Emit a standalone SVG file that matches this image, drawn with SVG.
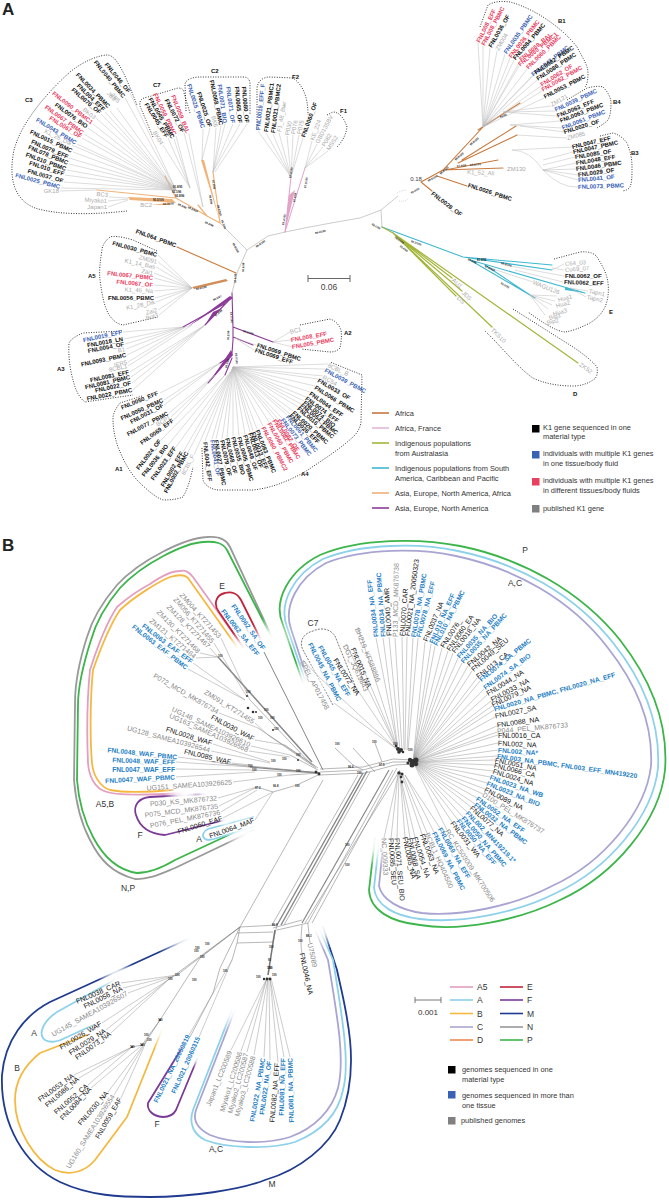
<svg xmlns="http://www.w3.org/2000/svg" width="669" height="1200" viewBox="0 0 669 1200">
<style>
text{font-family:"Liberation Sans",Arial,sans-serif;dominant-baseline:central}
.k,.r,.u,.g{font-size:6px;font-weight:700}
.k{fill:#111}.r{fill:#e8405f}.u{fill:#3a62b4}.g{fill:#aaa;font-weight:400}
.bk,.bu,.bg{font-size:7px}
.bk{fill:#111}.bu{fill:#1f7fc4;font-weight:700;font-size:6.7px}.bg{fill:#888}
.e{text-anchor:end}
.h{font-size:17px;font-weight:700;fill:#222}
.c{font-size:6px;font-weight:700;fill:#111}
.t{font-size:2.8px;font-weight:700;fill:#222}
.lg{font-size:7.4px;fill:#333}
.lb{font-size:8.5px;fill:#333}
.l{fill:none;stroke:#bbb;stroke-width:.5}
.m{fill:none;stroke:#999;stroke-width:.5}
.d{fill:none;stroke:#222;stroke-width:.9;stroke-dasharray:1 1.5}
.o{fill:none;stroke-width:1.8;stroke-linecap:round;stroke-linejoin:round}
.b{fill:none;stroke-linecap:round}
.n{fill:#333}
</style>
<defs>
<radialGradient id="fd"><stop offset="0" stop-color="#000"/><stop offset=".35" stop-color="#000" stop-opacity=".85"/><stop offset="1" stop-color="#000" stop-opacity="0"/></radialGradient>
<mask id="tails" maskUnits="userSpaceOnUse" x="0" y="520" width="669" height="680">
<rect x="0" y="520" width="669" height="680" fill="#fff"/>
<g fill="url(#fd)">
<circle cx="272" cy="640" r="24"/><circle cx="242" cy="650" r="20"/><circle cx="264" cy="645" r="16"/><circle cx="305" cy="686" r="26"/><circle cx="378" cy="842" r="26"/><circle cx="190" cy="938" r="34"/><circle cx="320" cy="927" r="24"/><circle cx="233" cy="1008" r="24"/><circle cx="248" cy="834" r="24"/><circle cx="185" cy="793" r="22"/><circle cx="205" cy="793" r="10"/><circle cx="118" cy="978" r="20"/><circle cx="100" cy="1022" r="14"/><circle cx="163" cy="1027" r="24"/><circle cx="186" cy="1043" r="12"/><circle cx="198" cy="1057" r="12"/><circle cx="225" cy="820" r="8"/>
</g>
</mask>
</defs>

<g id="connectors">
<path class="m" d="M247,250L268,236Q300,228 360,218L381,210L398,196M381,210L382,227M247,250L220,223M247,250L237,273L232,293"/>
<g id="a-branches">
<path class="b" stroke="#f0b37a" stroke-width="1.2" d="M220,223L207,216L176,198L97,190M176,198L165,176M207,216L198,205M220,223L213,172"/>
<path fill="#f0b37a" d="M128,197L172,199L176,203L130,200ZM201,160L204,160L220,222ZM170,203L150,205L170,205Z"/>
<path class="b" stroke="#e3a3c8" stroke-width="1" d="M285,232L291,177M285,232L305,168"/>
<path fill="#e3a3c8" d="M285,232L289,195L295,190Z"/>
<path class="b" stroke="#c97a3e" stroke-width="1.1" d="M421,182L443,170L483,127M421,182L432,191M437,176L467,186M443,170L503,168M458,163L517,135M462,160L516,126M478,130L520,103M445,170L498,160M236,273L177,247"/>
<path fill="#c97a3e" d="M192,287L226,279L228,281L194,289Z" opacity=".85"/>
<path class="b" stroke="#3fb8d0" stroke-width="1.1" d="M382,227L463,257L552,270M470,260L585,293M470,260L535,298M463,257L552,265M485,265L530,295"/>
<path fill="#3fb8d0" d="M565,287L585,293L565,290Z"/>
<path class="b" stroke="#a5b53c" stroke-width="1.2" d="M393,233L578,363M382,227L393,233M393,233L492,327M393,233L452,278M393,233L462,291M393,233L456,296"/>
<path class="b" stroke="#8b3a98" stroke-width="1.1" d="M232,293L233,327L233,340L232,353L208,383M233,327L273,342M233,337L253,345M232,297L205,325M226,303L183,327M232,355L220,363M232,358L225,375"/>
<path fill="#8b3a98" d="M230,296L233,298L186,328ZM213,312L222,308L205,325ZM231,350L233,355L208,384Z"/>
</g>
<path class="l" d="M130,93L176,190M125,98L176,190M117,108L176,190M110,111L176,190M105,112L176,190M101,114L176,190M96,118L176,190M93,124L176,190M88,128L176,190M84,134L176,190M82,138L176,190M77,144L176,190M72,145L176,190M73,152L176,190M69,158L176,190M69,164L176,190M67,170L176,190M65,175L176,190M64,182L176,190M61,188L176,190M60,191L97,190M109,197L128,198M108,201L128,199M108,207L128,200"/>
<path class="l" d="M189,134L203,207M184,133L203,207M176,136L190,188M174,139L190,188M168,138L190,188M163,145L190,188M203,129L202,160M210,128L202,160M216,128L213,172M221,126L213,172M225,124L213,172M233,124L213,172M240,124L213,172M247,124L215,172"/>
<path class="l" d="M258,131L291,177M266,133L291,177M273,134L291,177M279,133L291,177M287,136L291,177M293,135L291,177M299,135L291,177M303,138L291,177M312,141L305,168M317,144L305,168M323,147L305,168M328,151L305,168"/>
<path class="l" d="M478,43L483,127M483,46L483,127M490,48L483,127M497,51L483,127M505,54L483,127M510,58L483,127M514,60L483,127M520,61L483,127M519,66L483,127M527,69L483,127M532,76L483,127M535,74L483,127M537,80L483,127M541,86L483,127M542,91L483,127M544,98L483,127M551,106L503,112M555,111L503,112M557,116L503,112M560,121L510,125M562,128L510,125M564,132L520,126M567,138L517,135M572,147L512,150Q530,150 543,170M573,152L543,160M575,157L543,165M576,163L543,170M576,169L543,170M578,175L543,170M578,180L543,170M578,187Q560,188 543,170"/>
<path class="l" d="M158,255L192,288M158,262L192,288M156,267L192,288M154,273L192,288M154,278L192,288M154,285L192,288M154,291L192,288M155,298L192,288M156,302L192,288M158,310L192,288M159,315L192,288"/>
<path class="l" d="M123,332L183,327M124,339L183,327M125,344L183,327M126,349L183,327M127,355L187,326M128,362L187,326M128,366L192,325M130,372L205,325M131,377L205,325M132,383L205,325M133,390L205,325M160,393L220,363M164,400L220,363M164,405L220,363M169,413L215,375M171,417L215,375M174,420L208,383M161,440L225,375M168,445L225,375M176,447L228,375M183,452L230,372M188,452L232,370M194,455L233,367"/>
<path class="l" d="M205,441L233,367M212,439L233,367M216,439L233,367M222,439L233,367M227,437L233,367M233,436L233,367M239,436L233,367M245,434L233,367M250,432L233,367M253,431L233,367M257,429L233,367M263,426L233,367M269,422L233,367M274,419L233,367M278,419L233,367M282,418L233,367M287,415L233,367M290,414L233,367M293,411L233,367M298,407L233,367M301,404L233,367M304,401L233,367M306,397L233,367M310,392L233,367M315,386L233,367M318,379L233,367M323,376L233,367M325,369L233,367M328,364L233,367"/>
<path class="l" d="M290,332L273,342M291,340L273,342M292,347L273,342M256,345L235,338M254,350L235,338"/>
<path class="l" d="M564,264L552,270M564,270L552,268M564,276L510,266M563,282L515,270M588,291L570,288M586,297L570,288M533,282L490,268M557,296L530,295M555,301L530,295M552,305L530,295M548,309L530,295M545,315L530,295"/>
<g fill="none" stroke="#888" stroke-width=".6">
<path stroke-width="1.5" d="M218,657L312,762"/>
<path stroke="#666" stroke-width=".8" d="M264,652L323,770"/>
<path d="M250,700L312,765M258,728L315,766M268,735L316,768M285,745L318,768M290,755L318,770M220,763L320,773M252,770L320,773M290,775L320,773M257,787L273,792L297,785L318,775"/>
<path stroke-width="1.3" d="M250,767L320,773"/>
<path d="M320,772L363,770L393,762L413,762M320,769L363,767L393,759L413,760M320,775L365,773L395,765L413,764M353,748L375,772M375,743L382,762M335,748L353,765L363,770"/>
<path d="M323,780L240,927"/>
<path stroke-width="1.4" d="M363,773L277,925M367,771L281,925"/>
<path d="M370,772L284,925M358,775L272,925"/>
<path d="M393,770L308,923M397,768L312,923M400,770L305,923"/>
<path stroke-width="1.2" d="M389,770L302,923"/>
<path d="M240,927L277,925M237,933L273,932M237,943L273,942M277,930L308,923M273,928L302,920M240,927L237,943L232,960M277,925L273,942M308,923L308,925"/>
<path stroke="#777" stroke-width="1.6" d="M275,930L268,975"/>
<path d="M240,927L177,975M240,927L168,980M240,927L200,958L160,1020L142,1045L132,1047M240,927L220,968L213,993L190,1037M160,1020L147,1040"/>
<path d="M302,925Q300,945 302,953M308,925L310,943"/>
</g>
<path class="m" d="M221,638L250,700M214,643L247,697M210,648L218,657M200,653L218,657M196,658L218,657M193,663L245,700M188,669L245,700M219,713L258,728M255,723L268,735M255,740L285,745M251,746L290,755M249,751L290,757M211,751L270,763M213,744L270,762M232,763L250,765M178,757L250,767M176,762L250,767M176,769L252,770M176,777L255,772M233,782L290,775M218,798L257,787M219,806L257,787M221,812L257,790M223,818L273,792M255,820L273,792"/>
<path class="m" d="M303,660Q320,680 400,752M334,703L398,750M336,658L398,750M346,644L398,750M354,647L398,750M358,627L398,750M376,638L398,750M383,638L398,750M389,637L400,750M395,638L402,750M402,637L404,750M407,637L405,750M413,638L407,750M418,638L408,750M425,642L413,762M431,644L413,762M435,646L413,762M442,648L413,762M448,651L413,762M453,653L413,762M458,658L413,762M462,663L413,762M468,666L413,762M472,671L413,762M477,678L413,762M480,681L413,762M484,689L413,762M487,695L413,762M491,701L413,762M492,706L413,762M494,710L413,762M495,717L413,762M497,726L413,762M497,732L413,762M498,735L413,762M498,743L413,762M498,750L413,762M497,756L413,762M495,760L413,762M494,765L413,762M493,771L413,762M490,777L413,762M487,783L413,762M485,789L413,762M483,794L413,762M477,798L413,762M475,804L413,762M471,807L413,762M467,812L413,762M463,817L413,762M458,820L413,762M452,822L413,762M447,830L413,762M440,828L405,775M434,832L405,775M427,833L403,775M422,834L402,775M415,837L400,775M410,838L400,775M405,837L400,775M397,838L399,775M391,838L398,775M384,838L398,775"/>
<path class="m" d="M121,983L177,975M123,988L177,975M128,993L177,975M102,1023L168,980M106,1030L168,980M111,1033L168,980M74,1075L132,1047M79,1078L132,1047M88,1085L132,1047M91,1088L142,1045M108,1092L147,1040M114,1095L147,1040M121,1098L147,1040M189,1035L232,960M199,1037L232,960M231,1050L267,978M241,1051L267,978M247,1052L267,978M254,1055L268,978M264,1057L268,978M270,1060L269,978M278,1062L270,978M284,1057L270,978M290,1057L271,978"/>
<g class="n">
<circle cx="413" cy="762" r="3"/><circle cx="410" cy="760" r="2.2"/><circle cx="416" cy="760" r="2.5"/><circle cx="412" cy="765" r="2.5"/><circle cx="416" cy="764" r="2.2"/><circle cx="408" cy="763" r="1.6"/>
<circle cx="398" cy="749" r="2"/><circle cx="401" cy="750" r="2"/><circle cx="399" cy="752" r="1.8"/><circle cx="403" cy="752" r="1.3"/><circle cx="396" cy="746" r="1.3"/>
<circle cx="399" cy="773" r="1.8"/><circle cx="402" cy="774" r="1.6"/><circle cx="401" cy="777" r="1.3"/><circle cx="402" cy="782" r="1.4"/>
<circle cx="247" cy="696" r="1"/><circle cx="248" cy="708" r="1.3"/><circle cx="253" cy="712" r="1.3"/><circle cx="256" cy="712" r="1"/><circle cx="273" cy="730" r="1"/><circle cx="298" cy="760" r="1"/><circle cx="316" cy="772" r="1.5"/><circle cx="319" cy="774" r="1.5"/>
<circle cx="264" cy="979" r="1.2"/><circle cx="267" cy="979" r="1.4"/><circle cx="270" cy="979" r="1.4"/><circle cx="132" cy="1047" r="1"/><circle cx="142" cy="1045" r="1"/><circle cx="160" cy="1020" r="1"/>
</g>
</g>

<g id="outlines-b" mask="url(#tails)">
<path class="o" stroke="#999" d="M270,633L230,547C226,538 218,536 207,537C185,538 140,560 117,585C100,605 92,620 87,637C78,665 75,690 75,703L74,780C76,805 82,825 90,840C100,860 112,873 135,879C148,880 160,874 175,868L240,837L253,830"/>
<path class="o" stroke="#3cb54a" d="M273,640L227,550C223,543 216,541 203,542C185,543 143,563 120,588C104,607 96,622 91,640C83,665 78,690 78,705L77,780C79,805 85,822 93,837C103,856 116,870 137,873C150,873 165,866 175,860L233,833"/>
<path class="o" stroke="#e39fc0" d="M243,647L193,577C188,571 185,570 180,571C172,571 160,577 150,584C135,592 125,600 117,607C105,625 97,648 90,670C87,700 87,740 88,763C89,778 96,788 104,791C115,796 150,795 183,793"/>
<path class="o" stroke="#f5b942" d="M237,647L188,578C185,575 180,574 170,577C158,582 135,596 120,610C108,628 100,650 93,670C90,700 90,740 92,763C93,775 100,787 110,790C125,793 150,792 173,790"/>
<path class="o" stroke="#c0243c" d="M243,647L219,612C213,604 216,595 225,593C232,591 238,594 241,600L262,642"/>
<path class="o" stroke="#7a3a96" d="M205,794L150,797C138,798 133,806 136,815C140,828 150,834 165,835L225,820"/>
<path class="o" stroke="#8ed1ea" stroke-width="1.5" d="M253,817L208,829C203,831 202,836 204,838C206,841 210,840 214,839L253,827"/>
<path class="o" stroke="#3cb54a" d="M303,683L283,625C272,600 290,570 320,555C360,538 420,538 460,546C520,558 580,590 620,640C655,685 668,730 665,770C660,820 615,875 560,900C520,920 460,932 420,925C390,922 370,910 369,890L375,838"/>
<path class="o" stroke="#8ed1ea" d="M305,680L287,627C278,603 294,574 323,559C362,543 420,543 458,551C517,563 575,594 614,644C648,687 660,730 658,768C653,815 610,868 556,893C517,913 460,924 420,919C395,916 376,906 374,888L379,842"/>
<path class="o" stroke="#a9a5d3" d="M307,678L291,629C283,606 298,578 326,563C363,548 420,548 456,556C513,568 570,598 608,648C641,690 653,730 651,766C646,810 605,862 552,886C514,906 460,917 422,913C400,910 382,900 379,886L383,845"/>
<path d="M333,705L303,650C298,640 305,633 313,631C322,627 330,629 335,636L358,693" fill="none" stroke="#555" stroke-width=".8" stroke-dasharray="2 1.2"/>
<path class="o" stroke="#1f3a8f" d="M190,938L50,1002C25,1015 5,1040 2,1075C0,1125 25,1165 60,1182C90,1196 120,1197 150,1197C190,1197 240,1190 265,1180C300,1170 330,1145 340,1120C350,1095 353,1070 350,1040C347,1010 340,985 337,970L323,927"/>
<path class="o" stroke="#8ed1ea" d="M118,978L57,1012C42,1022 38,1035 45,1040C50,1043 58,1042 65,1038L100,1022"/>
<path class="o" stroke="#f5b942" d="M87,1035L40,1053C25,1065 15,1080 15,1100C15,1130 35,1160 55,1170C70,1176 85,1172 95,1160L127,1117L163,1027"/>
<path class="o" stroke="#7a3a96" d="M185,1043L148,1103C147,1110 152,1116 163,1117C170,1117 174,1114 176,1110L198,1057"/>
<path class="o" stroke="#8ed1ea" d="M232,1010L193,1110C188,1125 195,1135 205,1140C225,1148 270,1150 295,1142C320,1132 338,1115 343,1090C350,1065 343,1020 333,960L320,930"/>
<path class="o" stroke="#a9a5d3" d="M234,1012L196,1110C192,1122 200,1130 210,1135C230,1143 265,1145 290,1137C315,1128 332,1110 338,1088C345,1060 338,1020 328,960L316,932"/>
</g>

<g id="dotted-a">
<path class="d" d="M127,211C100,214 60,216 35,208C15,200 8,180 14,150C22,120 50,90 70,72C85,60 100,55 108,55C118,56 127,80 137,105"/>
<path class="d" d="M153,137L140,106C139,100 142,98 148,97L178,88C182,88 184,90 184,93L190,113"/>
<path class="d" d="M186,111L185,84C186,79 194,77 200,77L243,77C248,77 250,80 250,84L250,115"/>
<path class="d" d="M257,130L257,88C258,80 264,77 270,77L293,78C303,85 308,97 308,115"/>
<path class="d" d="M327,115L333,112C340,112 345,120 347,127C346,135 342,142 337,147"/>
<path class="d" d="M480,27L488,5C495,1 503,1 510,2C522,5 535,12 543,17C560,28 570,38 577,47C584,60 588,66 588,73C588,80 587,85 585,87"/>
<path class="d" d="M567,100L587,88C595,86 600,86 603,87C608,92 611,98 611,103C611,112 610,116 608,120C604,124 600,126 597,128"/>
<path class="d" d="M600,136L613,133C620,135 624,139 627,143C631,153 632,160 632,167C632,176 632,182 630,187C628,190 626,190 623,191"/>
<path class="d" d="M554,259L580,252C590,251 595,254 597,257C604,268 607,275 608,283C609,292 608,300 605,307C601,315 596,319 590,323C580,328 572,331 565,332C555,331 542,322 528,312"/>
<path class="d" d="M513,309L573,347C585,355 592,361 597,367C598,373 597,378 593,380C587,384 580,386 573,386C560,386 545,384 533,378C518,368 500,345 485,331"/>
<path class="d" d="M157,251L133,240C120,236 113,236 110,237C105,241 102,246 102,250C100,262 99,272 100,280C102,295 104,305 108,313C112,320 117,324 123,325L158,317"/>
<path class="d" d="M122,331L83,333C76,336 71,339 69,343C68,360 71,374 75,387C78,395 81,399 85,402L133,395"/>
<path class="d" d="M142,396L120,403C116,408 114,412 113,417C113,430 115,438 118,447C125,464 130,472 137,480C147,490 155,497 163,500C172,500 178,499 183,497C188,488 191,477 193,467"/>
<path class="d" d="M202,448L203,480C205,486 212,490 220,490L253,490C272,488 288,481 303,473C320,462 340,449 353,437C358,432 360,428 361,422L362,375L330,362"/>
<path class="d" d="M300,325L330,319C336,321 339,325 341,330C342,337 341,343 340,348C337,351 334,352 330,352L301,349"/>
</g>

<text class="h" x="2" y="9">A</text>
<text class="h" x="2" y="545">B</text>

<g id="clade-C3">
<text class="c" x="25" y="100">C3</text>
<text class="k e" transform="translate(129 92) rotate(51)">FNL0046_OF</text>
<text class="k e" transform="translate(124 97) rotate(51)">FNL0040_PBMC</text>
<text class="g e" transform="translate(115 100) rotate(48)">JB3</text>
<text class="g e" transform="translate(119 102) rotate(48)">ZB5</text>
<text class="k e" transform="translate(109 107) rotate(46)">FNL0034_PBMC</text>
<text class="k e" transform="translate(104 110) rotate(44)">FNL004_EFF</text>
<text class="k e" transform="translate(100 113) rotate(41)">FNL0070_OF</text>
<text class="r e" transform="translate(92 123) rotate(38)">FNL0090_PBMC1</text>
<text class="g e" transform="translate(95 118) rotate(38)">BK03</text>
<text class="k e" transform="translate(87 127) rotate(36)">FNL0076_BIO</text>
<text class="r e" transform="translate(83 133) rotate(35)">FNL0067_PBMC</text>
<text class="r e" transform="translate(81 137) rotate(32)">FNL0067_OF</text>
<text class="u e" transform="translate(76 143) rotate(31)">FNL0043_PBMC</text>
<text class="g e" transform="translate(71 144) rotate(27)">K1_26_Dik</text>
<text class="k e" transform="translate(72 151) rotate(25)">FNL0015_PBMC</text>
<text class="k e" transform="translate(68 157) rotate(23)">FNL0079_EFF</text>
<text class="k e" transform="translate(68 163) rotate(22)">FNL078_PBMC</text>
<text class="k e" transform="translate(66 169) rotate(20)">FNL010_PBMC</text>
<text class="k e" transform="translate(64 174) rotate(18)">FNL010_EFF</text>
<text class="k e" transform="translate(63 181) rotate(16)">FNL0037_OF</text>
<text class="u e" transform="translate(60 187) rotate(15)">FNL0025_PBMC</text>
<text class="g e" x="59" y="191">GK18</text>
<text class="g e" transform="translate(108 195) rotate(5)">BC3</text>
<text class="g e" transform="translate(107 201) rotate(3)">Miyako1</text>
<text class="g e" x="107" y="207">Japan1</text>
<text class="g e" x="152" y="205">BC2</text>
</g>
<g id="clade-C7">
<text class="c" x="153" y="85">C7</text>
<text class="r e" transform="translate(188 133) rotate(68)">FNL0059_BAL</text>
<text class="k e" transform="translate(183 132) rotate(63)">FNL0072_OF</text>
<text class="r e" transform="translate(175 135) rotate(64)">FNL0059_PBMC</text>
<text class="k e" transform="translate(173 138) rotate(60)">FNL0045_PBMC</text>
<text class="k e" transform="translate(167 137) rotate(58)">FNL0045_EFF</text>
<text class="g e" transform="translate(162 144) rotate(58)">BK04</text>
</g>
<g id="clade-C2">
<text class="c" x="211" y="71">C2</text>
<text class="u e" transform="translate(203 128) rotate(72)">FNL0025_PBMC</text>
<text class="k e" transform="translate(210 127) rotate(72)">FNL0025_OF</text>
<text class="g e" transform="translate(216 127) rotate(75)">BK6</text>
<text class="k e" transform="translate(221 125) rotate(78)">FNL0068_PBMC</text>
<text class="u e" transform="translate(225 123) rotate(82)">FNL0071_BIO</text>
<text class="u e" transform="translate(233 123) rotate(82)">FNL0071_OF</text>
<text class="k e" transform="translate(240 123) rotate(85)">FNL0065_OF</text>
<text class="k e" transform="translate(247 123) rotate(85)">FNL0080_OF</text>
</g>
<g id="clade-F2">
<text class="c" x="292" y="77">F2</text>
<text class="u" transform="translate(258 130) rotate(-84)">FNL0019_EFF_F</text>
<text class="k" transform="translate(266 132) rotate(-83)">FNL0021_PBMC1</text>
<text class="k" transform="translate(273 133) rotate(-83)">FNL0021_PBMC2</text>
<text class="g" transform="translate(279 132) rotate(-80)">F1_48_Bwr</text>
<text class="g" transform="translate(287 135) rotate(-78)">P030</text>
<text class="g" transform="translate(293 134) rotate(-78)">P076</text>
<text class="g" transform="translate(299 134) rotate(-78)">P075</text>
<text class="k" transform="translate(303 137) rotate(-70)">FNL0060_OF</text>
</g>
<g id="clade-F1">
<text class="c" x="340" y="111">F1</text>
<text class="g" transform="translate(312 140) rotate(-70)">KE_224</text>
<text class="g" transform="translate(317 143) rotate(-62)">GBD135BV</text>
<text class="g" transform="translate(323 146) rotate(-58)">P082</text>
<text class="g" transform="translate(328 150) rotate(-58)">MSS2</text>
</g>
<g id="clade-B1">
<text class="c" x="558" y="21">B1</text>
<text class="r" transform="translate(478 42) rotate(-63)">FNL008_EFF</text>
<text class="r" transform="translate(483 45) rotate(-62)">FNL008_PBMC</text>
<text class="k" transform="translate(490 47) rotate(-60)">FNL0036_OF</text>
<text class="g" transform="translate(497 50) rotate(-60)">ZM004</text>
<text class="u" transform="translate(505 53) rotate(-55)">FNL0035_PBMC</text>
<text class="r" transform="translate(510 57) rotate(-52)">FNL0036_PBMC</text>
<text class="k" transform="translate(514 59) rotate(-49)">FNL0084_PBMC</text>
<text class="r" transform="translate(520 60) rotate(-40)">FNL0069_BAL</text>
<text class="r" transform="translate(519 65) rotate(-40)">FNL0060_PBMC1</text>
<text class="r" transform="translate(527 68) rotate(-44)">FNL0060_PBMC</text>
<text class="u" transform="translate(532 75) rotate(-38)">FNL0043_PBMC</text>
<text class="k" transform="translate(535 73) rotate(-34)">FNL0082_PBMC</text>
<text class="k" transform="translate(537 79) rotate(-33)">FNL0086_PBMC</text>
<text class="r" transform="translate(541 85) rotate(-32)">FNL0062_OF</text>
<text class="r" transform="translate(542 90) rotate(-30)">FNL0062_PBMC</text>
<text class="k" transform="translate(544 97) rotate(-27)">FNL0053_PBMC</text>
<text class="g" transform="translate(551 105) rotate(-30)">ZM121</text>
</g>
<g id="clade-B4">
<text class="c" x="613" y="102">B4</text>
<text class="u" transform="translate(555 110) rotate(-25)">FNL0039_PBMC</text>
<text class="k" transform="translate(557 116) rotate(-22)">FNL0063_EFF</text>
<text class="k" transform="translate(560 121) rotate(-21)">FNL0063_PBMC</text>
<text class="u" transform="translate(562 128) rotate(-21)">FNL0061_PBMC</text>
<text class="k" transform="translate(564 132) rotate(-17)">FNL0020_OF</text>
<text class="g" transform="translate(567 138) rotate(-14)">ZM085</text>
</g>
<g id="clade-B3">
<text class="c" x="631" y="153">B3</text>
<text class="k" transform="translate(572 147) rotate(-13)">FNL0047_EFF</text>
<text class="k" transform="translate(573 152) rotate(-12)">FNL0047_PBMC</text>
<text class="k" transform="translate(575 157) rotate(-9)">FNL0085_OF</text>
<text class="k" transform="translate(576 163) rotate(-9)">FNL0048_EFF</text>
<text class="k" transform="translate(576 169) rotate(-8)">FNL0046_PBMC</text>
<text class="k" transform="translate(578 175) rotate(-8)">FNL0029_OF</text>
<text class="u" transform="translate(578 180) rotate(-5)">FNL0041_OF</text>
<text class="u" transform="translate(578 187) rotate(-2)">FNL0073_PBMC</text>
<text class="g" x="507" y="169">ZM130</text>
<text class="g" transform="translate(467 172) rotate(3)">K1_52_Ali</text>
<text class="k" transform="translate(468 185) rotate(18)">FNL0026_PBMC</text>
<text class="k" transform="translate(432 193) rotate(37)">FNL0028_OF</text>
</g>
<g id="clade-E">
<text class="c" x="609" y="312">E</text>
<text class="g" transform="translate(565 264) rotate(-5)">C64_03</text>
<text class="g" transform="translate(565 270) rotate(-5)">Cu69_07</text>
<text class="k" x="565" y="276">FNL0062_OF</text>
<text class="k" transform="translate(564 282) rotate(2)">FNL0062_EFF</text>
<text class="g" transform="translate(589 291) rotate(12)">Tapn1</text>
<text class="g" transform="translate(587 297) rotate(12)">Tapn2</text>
<text class="g" transform="translate(533 282) rotate(22)">WAGU126</text>
<text class="g" transform="translate(558 300) rotate(-15)">Hua1</text>
<text class="g" transform="translate(556 306) rotate(-15)">Hua2</text>
<text class="g" transform="translate(553 314) rotate(-15)">Hua3</text>
<text class="g" transform="translate(549 318) rotate(-15)">Bip1</text>
<text class="g" transform="translate(547 323) rotate(-15)">Bip2</text>
</g>
<g id="clade-D">
<text class="c" x="573" y="394">D</text>
<text class="g" transform="translate(453 279) rotate(45)">AU1</text>
<text class="g" transform="translate(463 292) rotate(45)">JD5</text>
<text class="g" transform="translate(458 297) rotate(45)">DS</text>
<text class="g" transform="translate(492 329) rotate(45)">TKS10</text>
<text class="g" transform="translate(580 364) rotate(35)">ZK52</text>
</g>
<g id="clade-A5">
<text class="c" x="88" y="276">A5</text>
<text class="k e" transform="translate(157 255) rotate(15)">FNL0030_PBMC</text>
<text class="g e" transform="translate(157 262) rotate(15)">ZM091</text>
<text class="g e" transform="translate(155 267) rotate(12)">K1_14_Bas</text>
<text class="g e" transform="translate(153 273) rotate(10)">Zai1</text>
<text class="r e" transform="translate(153 278) rotate(6)">FNL0067_PBMC</text>
<text class="r e" transform="translate(153 285) rotate(5)">FNL0067_OF</text>
<text class="g e" transform="translate(153 291) rotate(3)">K1_46_Na</text>
<text class="k e" x="154" y="298">FNL0056_PBMC</text>
<text class="g e" transform="translate(155 302) rotate(-12)">K1_28_Dik</text>
<text class="g e" transform="translate(157 310) rotate(-14)">Zai2</text>
<text class="g e" transform="translate(158 315) rotate(-15)">Bot3</text>
<text class="k" transform="translate(136 231) rotate(20)">FNL064_PBMC</text>
</g>
<g id="clade-A3">
<text class="c" x="57" y="369">A3</text>
<text class="u e" transform="translate(122 332) rotate(-12)">FNL0019_EFF</text>
<text class="k e" transform="translate(123 339) rotate(-10)">FNL0018_LN</text>
<text class="k e" transform="translate(124 344) rotate(-11)">FNL0054_OF</text>
<text class="g e" transform="translate(125 349) rotate(-12)">B1</text>
<text class="k e" transform="translate(126 355) rotate(-12)">FNL0093_PBMC</text>
<text class="g e" transform="translate(127 362) rotate(-14)">IER5</text>
<text class="g e" transform="translate(127 366) rotate(-13)">8CBL1</text>
<text class="k e" transform="translate(129 372) rotate(-12)">FNL0081_EFF</text>
<text class="k e" transform="translate(130 377) rotate(-13)">FNL0081_PBMC</text>
<text class="k e" transform="translate(131 383) rotate(-12)">FNL0022_OF</text>
<text class="k e" transform="translate(132 390) rotate(-11)">FNL0022_PBMC</text>
</g>
<g id="clade-A1">
<text class="c" x="115" y="469">A1</text>
<text class="k e" transform="translate(158 393) rotate(-22)">FNL0050_EFF</text>
<text class="k e" transform="translate(163 400) rotate(-24)">FNL0050_PBMC</text>
<text class="k e" transform="translate(163 405) rotate(-28)">FNL0031_OF</text>
<text class="k e" transform="translate(168 413) rotate(-28)">FNL0077_PBMC</text>
<text class="g e" transform="translate(170 417) rotate(-30)">BCP1</text>
<text class="k e" transform="translate(173 420) rotate(-36)">FNL0069_EFF</text>
<text class="k e" transform="translate(160 440) rotate(-52)">FNL0024_OF</text>
<text class="k e" transform="translate(167 445) rotate(-52)">FNL0036_BIO</text>
<text class="k e" transform="translate(175 447) rotate(-55)">FNL0023_EFF</text>
<text class="k e" transform="translate(182 452) rotate(-60)">FNL0002_EFF</text>
<text class="k e" transform="translate(187 452) rotate(-62)">FNL0002_PBMC</text>
<text class="g e" transform="translate(193 455) rotate(-63)">8CBL_F</text>
</g>
<g id="clade-A4">
<text class="c" x="301" y="474">A4</text>
<text class="k" transform="translate(205 442) rotate(83)">FNL0042_EFF</text>
<text class="u" transform="translate(212 440) rotate(80)">FNL0041_OF</text>
<text class="k" transform="translate(216 440) rotate(80)">FNL0027_PBMC</text>
<text class="k" transform="translate(222 440) rotate(78)">FNL0079_OF</text>
<text class="k" transform="translate(227 438) rotate(77)">FNL0068_OF</text>
<text class="k" transform="translate(233 437) rotate(75)">FNL0035_BIO</text>
<text class="k" transform="translate(239 437) rotate(74)">FNL0005_PBMC</text>
<text class="k" transform="translate(245 435) rotate(73)">FNL0049_OF</text>
<text class="k" transform="translate(250 433) rotate(72)">FNL0013_OF</text>
<text class="k" transform="translate(253 432) rotate(70)">FNL0013_EFF</text>
<text class="k" transform="translate(257 430) rotate(68)">FNL0083_PBMC</text>
<text class="r" transform="translate(263 427) rotate(62)">FNL0060_PBMC2</text>
<text class="r" transform="translate(269 423) rotate(60)">FNL0060_PBMC</text>
<text class="r" transform="translate(274 420) rotate(57)">FNL0082_PBMC</text>
<text class="r" transform="translate(278 420) rotate(57)">FNL0082_OF</text>
<text class="u" transform="translate(282 419) rotate(52)">FNL0073_PBMC</text>
<text class="u" transform="translate(287 416) rotate(50)">FNL0061_PBMC</text>
<text class="k" transform="translate(290 415) rotate(44)">FNL0026_EFF</text>
<text class="k" transform="translate(293 412) rotate(42)">FNL0020_PBMC</text>
<text class="k" transform="translate(298 408) rotate(40)">FNL0016_PBMC</text>
<text class="k" transform="translate(301 405) rotate(38)">FNL0054_PBMC</text>
<text class="k" transform="translate(304 402) rotate(38)">FNL0074_BIO</text>
<text class="k" transform="translate(306 398) rotate(36)">FNL0074_EFF</text>
<text class="k" transform="translate(310 393) rotate(35)">FNL0044_EFF</text>
<text class="k" transform="translate(315 387) rotate(32)">FNL0066_PBMC</text>
<text class="k" transform="translate(318 380) rotate(30)">FNL0033_OF</text>
<text class="g" transform="translate(323 377) rotate(28)">RC54</text>
<text class="u" transform="translate(325 370) rotate(28)">FNL0039_PBMC</text>
<text class="g" transform="translate(328 365) rotate(25)">8CBL_B</text>
</g>
<g id="clade-A2">
<text class="c" x="344" y="333">A2</text>
<text class="g" transform="translate(290 332) rotate(-15)">BC1</text>
<text class="r" transform="translate(291 340) rotate(-10)">FNL008_EFF</text>
<text class="r" transform="translate(292 347) rotate(-10)">FNL005_PBMC</text>
<text class="k" transform="translate(257 345) rotate(18)">FNL0069_PBMC</text>
<text class="k" transform="translate(255 350) rotate(18)">FNL0069_EFF</text>
</g>

<g id="support-a">
<text class="t" transform="translate(153 200)">95.5/100</text><text class="t" transform="translate(163 204) rotate(-3)">94.3/100</text><text class="t" transform="translate(178 204) rotate(25)">96.4/99</text><text class="t" transform="translate(188 207) rotate(25)">98.3/100</text><text class="t" transform="translate(205 222) rotate(25)">95.3/99</text>
<text class="t" transform="translate(173 187)">91.8/95</text><text class="t" transform="translate(172 192)">92.1/96</text><text class="t" transform="translate(175 196)">92.8/96</text>
<text class="t" transform="translate(213 180) rotate(80)">97.2/99</text><text class="t" transform="translate(210 195) rotate(80)">99.1/99</text><text class="t" transform="translate(218 205) rotate(75)">99.3/100</text><text class="t" transform="translate(222 220) rotate(70)">95.3/99</text>
<text class="t" transform="translate(290 178) rotate(-80)">97.4/100</text><text class="t" transform="translate(283 225) rotate(-80)">93.4/100</text><text class="t" transform="translate(294 202) rotate(-80)">87.9/96</text><text class="t" transform="translate(305 188) rotate(-80)">97.3/100</text><text class="t" transform="translate(315 233) rotate(-12)">99.4/100</text>
<text class="t" transform="translate(233 243) rotate(60)">99.9/100</text><text class="t" transform="translate(256 247) rotate(-35)">99.9/100</text><text class="t" transform="translate(243 272) rotate(-88)">96.9/98</text><text class="t" transform="translate(235 283) rotate(-88)">92.9/96</text>
<text class="t" transform="translate(196 289) rotate(-12)">94.9/100</text><text class="t" transform="translate(231 312) rotate(85)">94.7/100</text><text class="t" transform="translate(228 340) rotate(-88)">96.2/99</text><text class="t" transform="translate(243 331) rotate(15)">99.5/100</text>
<text class="t" transform="translate(213 300) rotate(-25)">98.5/97</text><text class="t" transform="translate(215 316) rotate(-40)">97.2/99</text><text class="t" transform="translate(236 353) rotate(85)">95.7/100</text><text class="t" transform="translate(226 368) rotate(-75)">93.1/99</text>
<text class="t" transform="translate(372 224) rotate(30)">68.1/98</text><text class="t" transform="translate(411 193) rotate(-30)">90.4/00</text><text class="t" transform="translate(428 181) rotate(-30)">99.5/100</text><text class="t" transform="translate(440 174) rotate(-40)">99.9/100</text><text class="t" transform="translate(455 160) rotate(-40)">99.9/100</text><text class="t" transform="translate(470 145) rotate(-40)">99.6/100</text><text class="t" transform="translate(500 117) rotate(-20)">96/86</text><text class="t" transform="translate(457 166) rotate(-5)">91.9/99</text><text class="t" transform="translate(470 165) rotate(-5)">96.8/100</text>
<text class="t" transform="translate(411 241) rotate(20)">94.3/100</text><text class="t" transform="translate(395 237) rotate(35)">98.5/100</text><text class="t" transform="translate(400 246) rotate(35)">95.2/95</text><text class="t" transform="translate(477 260)">81.8/96</text><text class="t" transform="translate(501 263) rotate(15)">98.8/100</text><text class="t" transform="translate(468 259) rotate(25)">96.5/96</text><text class="t" transform="translate(485 266) rotate(25)">97.8/100</text><text class="t" transform="translate(501 283) rotate(30)">84.5/95</text>
</g>

<g id="scale-a">
<path d="M308,275V282M350,275V282M308,278.5H350" stroke="#666" fill="none" stroke-width="1"/>
<text x="329" y="287" style="font-size:8.5px;text-anchor:middle;fill:#444">0.06</text>
<text x="416" y="179" style="font-size:6px;text-anchor:middle;fill:#444">0.18</text>
<path d="M397,193Q403,190 407,190M399,201Q405,202 408,199" fill="none" stroke="#aaa" stroke-width=".5" stroke-dasharray="1 1"/>
</g>

<g id="legend-a">
<g stroke-width="1.6" fill="none">
<path d="M372,413H389" stroke="#c4773f"/><path d="M372,428H389" stroke="#e3b8d8"/><path d="M372,443H389" stroke="#a2b438"/><path d="M372,468H389" stroke="#3fb8d0"/><path d="M372,493H389" stroke="#eeaf78"/><path d="M372,508H389" stroke="#8b3a98"/>
</g>
<text class="lg" x="395" y="413">Africa</text>
<text class="lg" x="395" y="428">Africa, France</text>
<text class="lg" x="395" y="443">Indigenous populations</text>
<text class="lg" x="395" y="453">from Australasia</text>
<text class="lg" x="395" y="468">Indigenous populations from South</text>
<text class="lg" x="395" y="478">America, Caribbean and Pacific</text>
<text class="lg" x="395" y="493">Asia, Europe, North America, Africa</text>
<text class="lg" x="395" y="508">Asia, Europe, North America</text>
<rect x="532" y="425" width="7.5" height="7.5" fill="#000"/><rect x="532" y="451" width="7.5" height="7.5" fill="#3a62b4"/><rect x="532" y="478" width="7.5" height="7.5" fill="#e8405f"/><rect x="532" y="505" width="7.5" height="7.5" fill="#808080"/>
<text class="lg" x="543" y="427">K1 gene sequenced in one</text>
<text class="lg" x="543" y="436">material type</text>
<text class="lg" x="543" y="453">individuals with multiple K1 genes</text>
<text class="lg" x="543" y="463">in one tissue/body fluid</text>
<text class="lg" x="543" y="480">individuals with multiple K1 genes</text>
<text class="lg" x="543" y="490">in different tissues/body fluids</text>
<text class="lg" x="543" y="508">published K1 gene</text>
</g>

<g id="group-NP-left">
<text class="lb" x="222" y="586" style="text-anchor:middle">E</text>
<text class="lb" x="128" y="888" style="text-anchor:middle">N,P</text>
<text class="lb" x="105" y="804" style="text-anchor:middle">A5,B</text>
<text class="lb" x="140" y="835" style="text-anchor:middle">F</text>
<text class="lb" x="199" y="839" style="text-anchor:middle">A</text>
<text class="bu e" transform="translate(264 649) rotate(55)">FNL0062_SA_OF</text>
<text class="bu e" transform="translate(258 655) rotate(52)">FNL0062_SA_EFF</text>
<text class="bg e" transform="translate(220 637) rotate(48)">ZM004_KT271453</text>
<text class="bg e" transform="translate(213 642) rotate(49)">ZM056_KT271455</text>
<text class="bg e" transform="translate(209 647) rotate(45)">ZM128_KT271467</text>
<text class="bg e" transform="translate(199 652) rotate(45)">ZM130_KT271468</text>
<text class="bg e" transform="translate(195 657) rotate(40)">ZM121_KT271464</text>
<text class="bu e" transform="translate(192 662) rotate(37)">FNL0063_EAF_EFF</text>
<text class="bu e" transform="translate(187 668) rotate(38)">FNL0063_EAF_PBMC</text>
<text class="bg e" transform="translate(218 712) rotate(30)">P072_MCD_MK876734</text>
<text class="bg e" transform="translate(254 722) rotate(32)">ZM091_KT271455</text>
<text class="bk e" transform="translate(254 739) rotate(28)">FNL0030_WAF</text>
<text class="bg e" transform="translate(250 745) rotate(25)">UG146_SAMEA103926610</text>
<text class="bg e" transform="translate(248 750) rotate(24)">UG163_SAMEA103926568</text>
<text class="bg e" transform="translate(210 750) rotate(15)">UG128_SAMEA103926544</text>
<text class="bk e" transform="translate(212 743) rotate(17)">FNL0028_WAF</text>
<text class="bk e" transform="translate(231 762) rotate(13)">FNL0085_WAF</text>
<text class="bu e" transform="translate(177 757) rotate(6)">FNL0048_WAF_PBMC</text>
<text class="bu e" transform="translate(175 762) rotate(2)">FNL0048_WAF_EFF</text>
<text class="bu e" x="175" y="769">FNL0047_WAF_EFF</text>
<text class="bu e" transform="translate(175 777) rotate(-3)">FNL0047_WAF_PBMC</text>
<text class="bg e" transform="translate(232 782) rotate(-4)">UG151_SAMEA103926625</text>
<text class="bg e" transform="translate(217 798) rotate(-5)">P030_KS_MK876732</text>
<text class="bg e" transform="translate(218 806) rotate(-7)">P075_MCD_MK876735</text>
<text class="bg e" transform="translate(220 812) rotate(-11)">P076_PEL_MK876736</text>
<text class="bk e" transform="translate(222 818) rotate(-17)">FNL0060_EAF</text>
<text class="bk e" transform="translate(254 820) rotate(-20)">FNL0064_MAF</text>
</g>

<g id="group-AC-right">
<text class="lb" x="515" y="583" style="text-anchor:middle">A,C</text>
<text class="lb" x="525" y="550" style="text-anchor:middle">P</text>
<text class="lb" x="313" y="623" style="text-anchor:middle">C7</text>
<text class="bg" transform="translate(302 661) rotate(62)">SPEL_AP017458</text>
<text class="bu" transform="translate(310 643) rotate(63)">FNL0045_NA_PBMC</text>
<text class="bu" transform="translate(320 646) rotate(60)">FNL0045_NA_EFF</text>
<text class="bk" transform="translate(335 659) rotate(57)">FNL0072_NA</text>
<text class="bg" transform="translate(345 645) rotate(65)">DG1_JQ619843</text>
<text class="bk" transform="translate(353 648) rotate(67)">FNL0015_NA</text>
<text class="bg" transform="translate(357 628) rotate(68)">BH219_KF588896</text>
<text class="bu" transform="translate(376 637) rotate(-97)">FNL0034_NA_EFF</text>
<text class="bu" transform="translate(383 637) rotate(-94)">FNL0034_NA_PBMC</text>
<text class="bk" transform="translate(389 636) rotate(-93)">FNL0040_AMR</text>
<text class="bg" transform="translate(395 637) rotate(-89)">P133_MCD_MK876738</text>
<text class="bk" transform="translate(402 636) rotate(-86)">FNL0070_CAR</text>
<text class="bk" transform="translate(407 636) rotate(-83)">FNL0021_NA_20050323</text>
<text class="bu" transform="translate(413 637) rotate(-80)">FNL0078_NA_PBMC</text>
<text class="bu" transform="translate(418 637) rotate(-75)">FNL0078_NA_EFF</text>
<text class="bk" transform="translate(425 641) rotate(-67)">FNL0037_NA</text>
<text class="bu" transform="translate(431 643) rotate(-66)">FNL010_NA_EFF</text>
<text class="bu" transform="translate(435 645) rotate(-63)">FNL010_NA_PBMC</text>
<text class="bk" transform="translate(442 647) rotate(-57)">FNL0076_</text>
<text class="bk" transform="translate(448 650) rotate(-55)">FNL0060_EA</text>
<text class="bk" transform="translate(453 652) rotate(-52)">FNL0018_NA</text>
<text class="bu" transform="translate(458 657) rotate(-48)">FNL0035_NA_BIO</text>
<text class="bu" transform="translate(462 662) rotate(-48)">FNL0035_NA_PBMC</text>
<text class="bk" transform="translate(468 665) rotate(-40)">FNL0042_NA</text>
<text class="bk" transform="translate(472 670) rotate(-41)">FNL0049_SEU</text>
<text class="bk" transform="translate(477 677) rotate(-38)">FNL013_CA</text>
<text class="bu" transform="translate(480 680) rotate(-39)">FNL0074_SA_PBMC</text>
<text class="bu" transform="translate(484 688) rotate(-36)">FNL0074_SA_BIO</text>
<text class="bk" transform="translate(487 694) rotate(-32)">FNL0044_NA</text>
<text class="bk" transform="translate(491 700) rotate(-28)">FNL0033_NA</text>
<text class="bk" transform="translate(492 705) rotate(-25)">FNL0079_NA</text>
<text class="bu" transform="translate(494 709) rotate(-16)">FNL0020_NA_PBMC, FNL0020_NA_EFF</text>
<text class="bk" transform="translate(495 716) rotate(-12)">FNL0027_SA</text>
<text class="bk" transform="translate(497 725) rotate(-8)">FNL0088_NA</text>
<text class="bg" transform="translate(497 731) rotate(-5)">P044_PEL_MK876733</text>
<text class="bk" x="498" y="735">FNL0016_CA</text>
<text class="bk" transform="translate(498 743) rotate(3)">FNL002_NA</text>
<text class="bu" transform="translate(498 750) rotate(4)">FNL002_NA*</text>
<text class="bu" transform="translate(497 756) rotate(8)">FNL003_NA_PBMC, FNL003_EFF_MN419220</text>
<text class="bk" transform="translate(495 760) rotate(11)">FNL0051_NA</text>
<text class="bk" transform="translate(494 765) rotate(14)">FNL0066_CA</text>
<text class="bk" transform="translate(493 771) rotate(17)">FNL0024_NA</text>
<text class="bu" transform="translate(490 777) rotate(19)">FNL0023_NA_WB</text>
<text class="bu" transform="translate(487 783) rotate(22)">FNL0023_NA_BIO</text>
<text class="bk" transform="translate(485 789) rotate(27)">FNL0089_NA</text>
<text class="bg" transform="translate(483 794) rotate(32)">D100_PEL_MK876737</text>
<text class="bu" transform="translate(477 798) rotate(35)">FNL0052_NA_EFF</text>
<text class="bu" transform="translate(475 804) rotate(37)">FNL0032_NA_PBMC</text>
<text class="bk" transform="translate(471 807) rotate(41)">FNL0077_NA</text>
<text class="bu" transform="translate(467 812) rotate(46)">FNL002_MN419219.1*</text>
<text class="bu" transform="translate(463 817) rotate(49)">FNL0050_NA_PBMC</text>
<text class="bu" transform="translate(458 820) rotate(50)">FNL0050_NA_EFF</text>
<text class="bk" transform="translate(452 822) rotate(52)">FNL0031_WA</text>
<text class="bg" transform="translate(447 830) rotate(57)">RC_KC503009_MK700506</text>
<text class="bu" transform="translate(440 828) rotate(60)">FNL0069_NA_EFF</text>
<text class="bu" transform="translate(434 832) rotate(63)">FNL0069_NA_PBMC</text>
<text class="bg" transform="translate(427 833) rotate(66)">BCBL1_HQ404500</text>
<text class="bk" transform="translate(422 834) rotate(69)">FNL0063_NA</text>
<text class="bk" transform="translate(415 837) rotate(72)">FNL0054_NA</text>
<text class="bk" transform="translate(410 838) rotate(78)">FNL0068_SA</text>
<text class="bk" transform="translate(405 837) rotate(78)">FNL0065_NA</text>
<text class="bk" transform="translate(397 838) rotate(85)">FNL0071_SEU_BIO</text>
<text class="bk" transform="translate(391 838) rotate(86)">FNL0085_SEU</text>
<text class="bg" transform="translate(384 838) rotate(87)">NC_009333</text>
</g>

<g id="group-M">
<text class="lb" x="34" y="1033" style="text-anchor:middle">A</text>
<text class="lb" x="17" y="1068" style="text-anchor:middle">B</text>
<text class="lb" x="157" y="1124" style="text-anchor:middle">F</text>
<text class="lb" x="216" y="1149" style="text-anchor:middle">A,C</text>
<text class="lb" x="272" y="1184" style="text-anchor:middle">M</text>
<text class="bk e" transform="translate(120 983) rotate(-23)">FNL0038_CAR</text>
<text class="bk e" transform="translate(122 988) rotate(-26)">FNL0056_NA</text>
<text class="bg e" transform="translate(127 993) rotate(-29)">UG145_SAMEA103926507</text>
<text class="bk e" transform="translate(101 1023) rotate(-31)">FNL0026_WAF</text>
<text class="bk e" transform="translate(105 1030) rotate(-33)">FNL0029_NA</text>
<text class="bk e" transform="translate(110 1033) rotate(-36)">FNL0073_NA</text>
<text class="bk e" transform="translate(73 1075) rotate(-36)">FNL0053_NA</text>
<text class="bk e" transform="translate(78 1078) rotate(-41)">FNL0086_NA</text>
<text class="bk e" transform="translate(87 1085) rotate(-41)">FNL0052_CA</text>
<text class="bk e" transform="translate(90 1088) rotate(-47)">FNL0084_NA</text>
<text class="bk e" transform="translate(107 1092) rotate(-49)">FNL0030_NA</text>
<text class="bg e" transform="translate(113 1095) rotate(-58)">UG160_SAMEA103926554</text>
<text class="bk e" transform="translate(120 1098) rotate(-60)">FNL0059_EAF</text>
<text class="bu e" transform="translate(188 1035) rotate(-64)">FNL0021_NA_20050819</text>
<text class="bu e" transform="translate(198 1037) rotate(-66)">FNL0021_20060315</text>
<text class="bg e" transform="translate(230 1051) rotate(-68)">Japan1_LC200589</text>
<text class="bg e" transform="translate(240 1052) rotate(-73)">Miyako1_LC200586</text>
<text class="bg e" transform="translate(246 1053) rotate(-75)">Miyako2_LC200587</text>
<text class="bg e" transform="translate(253 1056) rotate(-75)">Miyako3_LC200588</text>
<text class="bu e" transform="translate(263 1058) rotate(-80)">FNL0022_NA_PBMC</text>
<text class="bu e" transform="translate(269 1061) rotate(-82)">FNL0022_NA_OF</text>
<text class="bk e" transform="translate(277 1063) rotate(-85)">FNL0082_NA_EFF</text>
<text class="bu e" transform="translate(283 1058) rotate(-88)">FNL0081_NA_EFF</text>
<text class="bu e" transform="translate(290 1058) rotate(-91)">FNL0081_NA_PBMC</text>
<text class="bk" transform="translate(302 953) rotate(78)">FNL0046_NA</text>
<text class="bg" transform="translate(310 943) rotate(78)">U75089</text>
</g>

<g id="support-b">
<text class="t" transform="translate(218 656)">100</text><text class="t" transform="translate(246 692)">100</text><text class="t" transform="translate(264 710)">100</text><text class="t" transform="translate(270 718)">100</text><text class="t" transform="translate(258 718)">100</text><text class="t" transform="translate(274 729)">100</text><text class="t" transform="translate(296 755)">100</text><text class="t" transform="translate(282 759)">100</text><text class="t" transform="translate(271 761)">100</text><text class="t" transform="translate(248 766)">100</text><text class="t" transform="translate(252 770)">100</text><text class="t" transform="translate(277 775)">100</text><text class="t" transform="translate(296 771)">100</text>
<text class="t" transform="translate(255 788)">97.2</text><text class="t" transform="translate(273 786)">96.8</text><text class="t" transform="translate(295 786)">100</text><text class="t" transform="translate(348 767)">96.6</text><text class="t" transform="translate(357 773)">100</text><text class="t" transform="translate(379 765)">97.5</text><text class="t" transform="translate(335 744)">100</text><text class="t" transform="translate(372 742)">100</text><text class="t" transform="translate(393 744)">100</text><text class="t" transform="translate(408 750)">100</text><text class="t" transform="translate(345 845)">100</text><text class="t" transform="translate(345 865)">100</text>
<text class="t" transform="translate(272 925)">86.9</text><text class="t" transform="translate(306 936)">88.3</text><text class="t" transform="translate(298 941)">100</text><text class="t" transform="translate(269 947)">100</text><text class="t" transform="translate(268 960)">93</text><text class="t" transform="translate(267 968)">100</text>
<text class="t" transform="translate(205 944)">100</text><text class="t" transform="translate(195 948)">100</text><text class="t" transform="translate(194 951)">100</text><text class="t" transform="translate(200 957)">100</text>
<text class="t" transform="translate(168 979)">100</text><text class="t" transform="translate(175 975)">100</text><text class="t" transform="translate(192 980)">100</text><text class="t" transform="translate(223 971)">100</text><text class="t" transform="translate(158 1020)">100</text><text class="t" transform="translate(144 1035)">100</text><text class="t" transform="translate(147 1040)">100</text><text class="t" transform="translate(130 1047)">100</text><text class="t" transform="translate(140 1045)">100</text>
<text class="t" transform="translate(256 977)">100</text><text class="t" transform="translate(272 975)">100</text><text class="t" transform="translate(268 968)">100</text>
</g>

<g id="scale-b">
<path d="M415,997V1003M441,997V1003M415,1000H441" stroke="#555" fill="none" stroke-width=".8"/>
<text x="428" y="1012" style="font-size:8px;text-anchor:middle;fill:#333">0.001</text>
</g>
<g id="legend-b">
<g fill="none" stroke-width="1.6">
<path d="M450,987H473" stroke="#e39fc0"/><path d="M450,1000H473" stroke="#8ed1ea"/><path d="M450,1013.5H473" stroke="#f5b942"/><path d="M450,1027H473" stroke="#a9a5d3"/><path d="M450,1040H473" stroke="#ef8a4f"/>
<path d="M500,987H523" stroke="#c0243c"/><path d="M500,1000H523" stroke="#7a3a96"/><path d="M500,1013.5H523" stroke="#1f3a8f"/><path d="M500,1027H523" stroke="#999"/><path d="M500,1040H523" stroke="#3cb54a"/>
</g>
<g style="font-size:8.5px;fill:#333">
<text x="477" y="987">A5</text><text x="477" y="1000">A</text><text x="477" y="1013.5">B</text><text x="477" y="1027">C</text><text x="477" y="1040">D</text>
<text x="527" y="987">E</text><text x="527" y="1000">F</text><text x="527" y="1013.5">M</text><text x="527" y="1027">N</text><text x="527" y="1040">P</text>
</g>
<rect x="448" y="1066" width="7.5" height="7.5" fill="#000"/><rect x="448" y="1091" width="7.5" height="7.5" fill="#3a62b4"/><rect x="448" y="1117" width="7.5" height="7.5" fill="#808080"/>
<text class="lg" x="462" y="1069">genomes sequenced in one</text>
<text class="lg" x="462" y="1079">material type</text>
<text class="lg" x="462" y="1095">genomes sequenced in more than</text>
<text class="lg" x="462" y="1105">one tissue</text>
<text class="lg" x="461" y="1120">published genomes</text>
</g>
</svg>
